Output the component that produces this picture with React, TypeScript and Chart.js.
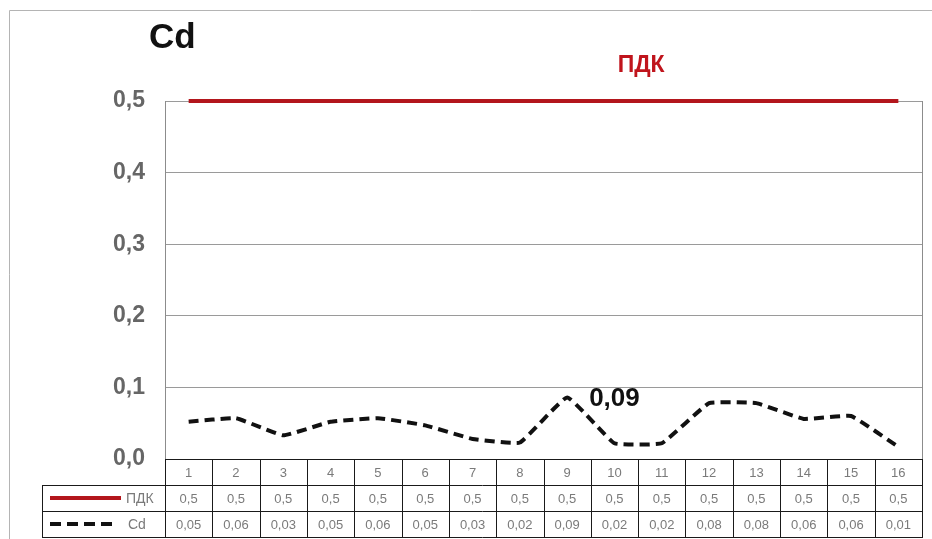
import React, { useEffect, useRef } from 'react';
import { Chart, registerables } from 'chart.js';

Chart.register(...registerables);

const categories = ['1', '2', '3', '4', '5', '6', '7', '8', '9', '10', '11', '12', '13', '14', '15', '16'];
const pdkValues = [0.5, 0.5, 0.5, 0.5, 0.5, 0.5, 0.5, 0.5, 0.5, 0.5, 0.5, 0.5, 0.5, 0.5, 0.5, 0.5];
const cdValues = [0.052, 0.057, 0.033, 0.052, 0.057, 0.047, 0.028, 0.023, 0.086, 0.022, 0.022, 0.078, 0.078, 0.056, 0.06, 0.017];
const pdkTableLabels = ['0,5', '0,5', '0,5', '0,5', '0,5', '0,5', '0,5', '0,5', '0,5', '0,5', '0,5', '0,5', '0,5', '0,5', '0,5', '0,5'];
const cdTableLabels = ['0,05', '0,06', '0,03', '0,05', '0,06', '0,05', '0,03', '0,02', '0,09', '0,02', '0,02', '0,08', '0,08', '0,06', '0,06', '0,01'];
const seriesNames = ['ПДК', 'Cd'];
const chartTitle = 'Cd';
const pdkLabel = 'ПДК';
const peakLabel = '0,09';
const peakIndex = 8;

const RED = '#b3161c';
const SANS = '"Liberation Sans", Arial, sans-serif';
const NARROW = '"Liberation Sans Narrow", "Liberation Sans", Arial, sans-serif';

const decorPlugin = {
  id: 'decor',
  afterDraw(chart: any) {
    const ctx = chart.ctx;
    const area = chart.chartArea;
    const xs = chart.scales.x;
    const ys = chart.scales.y;
    ctx.save();

    // outer frame
    ctx.strokeStyle = '#b4b4b4';
    ctx.lineWidth = 1;
    ctx.beginPath();
    ctx.moveTo(9.5, chart.height);
    ctx.lineTo(9.5, 10.5);
    ctx.lineTo(chart.width, 10.5);
    ctx.stroke();

    // plot right border
    ctx.strokeStyle = '#8c8c8c';
    ctx.beginPath();
    ctx.moveTo(Math.round(area.right) + 0.5, area.top);
    ctx.lineTo(Math.round(area.right) + 0.5, area.bottom);
    ctx.stroke();

    // title
    ctx.fillStyle = '#111';
    ctx.font = 'bold 35px ' + SANS;
    ctx.textAlign = 'left';
    ctx.textBaseline = 'middle';
    ctx.fillText(chartTitle, 149, 38);

    // ПДК label
    ctx.fillStyle = '#c0141c';
    ctx.font = 'bold 23px ' + SANS;
    ctx.textAlign = 'center';
    const pdkX = (xs.getPixelForValue(9) + xs.getPixelForValue(10)) / 2 + 3;
    ctx.fillText(pdkLabel, pdkX, ys.getPixelForValue(pdkValues[0]) - 35);

    // peak label
    ctx.fillStyle = '#111';
    ctx.font = 'bold 26px ' + SANS;
    ctx.textAlign = 'left';
    ctx.fillText(peakLabel, xs.getPixelForValue(peakIndex) + 22, ys.getPixelForValue(cdValues[peakIndex]) + 1);

    // data table
    const n = categories.length;
    const colW = (area.right - area.left) / n;
    const top = Math.round(area.bottom);
    const rowH = 26;
    const legendLeft = 42;
    const L = Math.round(area.left);
    const R = Math.round(area.right);
    ctx.strokeStyle = '#1a1a1a';
    ctx.lineWidth = 1;
    ctx.beginPath();
    ctx.moveTo(L, top + 0.5);
    ctx.lineTo(R + 1, top + 0.5);
    for (let r = 1; r <= 3; r++) {
      ctx.moveTo(legendLeft, top + r * rowH + 0.5);
      ctx.lineTo(R + 1, top + r * rowH + 0.5);
    }
    for (let k = 0; k <= n; k++) {
      const x = Math.round(area.left + k * colW) + 0.5;
      ctx.moveTo(x, top);
      ctx.lineTo(x, top + 3 * rowH);
    }
    ctx.moveTo(legendLeft + 0.5, top + rowH);
    ctx.lineTo(legendLeft + 0.5, top + 3 * rowH);
    ctx.stroke();

    ctx.fillStyle = '#7a7a7a';
    ctx.font = '13px ' + NARROW;
    ctx.textAlign = 'center';
    ctx.textBaseline = 'middle';
    for (let i = 0; i < n; i++) {
      const cx = xs.getPixelForValue(i);
      ctx.fillText(categories[i], cx, top + rowH * 0.5 + 1);
      ctx.fillText(pdkTableLabels[i], cx, top + rowH * 1.5 + 1);
      ctx.fillText(cdTableLabels[i], cx, top + rowH * 2.5 + 1);
    }

    // legend keys
    const y1 = top + rowH * 1.5;
    const y2 = top + rowH * 2.5;
    ctx.lineWidth = 4;
    ctx.strokeStyle = RED;
    ctx.beginPath();
    ctx.moveTo(50, y1);
    ctx.lineTo(121, y1);
    ctx.stroke();
    ctx.strokeStyle = '#111';
    ctx.setLineDash([11, 6]);
    ctx.beginPath();
    ctx.moveTo(50, y2);
    ctx.lineTo(117, y2);
    ctx.stroke();
    ctx.setLineDash([]);
    ctx.textAlign = 'left';
    ctx.fillStyle = '#7a7a7a';
    ctx.font = '14px ' + NARROW;
    ctx.fillText(seriesNames[0], 126, y1 + 1);
    ctx.fillText(seriesNames[1], 128, y2 + 1);

    ctx.restore();
  },
};

export default function App() {
  const ref = useRef<HTMLCanvasElement>(null);

  useEffect(() => {
    if (!ref.current) return;
    const chart = new Chart(ref.current, {
      type: 'line',
      data: {
        labels: categories,
        datasets: [
          {
            label: seriesNames[0],
            data: pdkValues,
            borderColor: RED,
            borderWidth: 4,
            pointRadius: 0,
            tension: 0,
            clip: false,
          },
          {
            label: seriesNames[1],
            data: cdValues,
            borderColor: '#111',
            borderWidth: 4,
            borderDash: [10, 6],
            pointRadius: 0,
            tension: 0.1,
            clip: false,
          },
        ],
      },
      options: {
        animation: false,
        responsive: false,
        events: [],
        layout: { padding: { left: 0, top: 101, right: 10, bottom: 0 } },
        plugins: {
          legend: { display: false },
          tooltip: { enabled: false },
          title: { display: false },
        },
        scales: {
          x: {
            type: 'category',
            offset: true,
            grid: { display: false, drawTicks: false },
            border: { display: false },
            ticks: { display: false },
            afterFit: (s: any) => {
              s.height = 80;
            },
          },
          y: {
            min: 0,
            max: 0.5,
            ticks: {
              stepSize: 0.1,
              padding: 20,
              color: '#666',
              font: { family: SANS, size: 23, weight: 'bold' },
              callback: (v: any) => Number(v).toFixed(1).replace('.', ','),
            },
            grid: { color: '#9a9a9a', lineWidth: 1, drawTicks: false },
            border: { display: true, color: '#8c8c8c', width: 1 },
            afterFit: (s: any) => {
              s.width = 165;
            },
          },
        },
      },
      plugins: [decorPlugin],
    });
    return () => chart.destroy();
  }, []);

  return (
    <div style={{ position: 'absolute', left: 0, top: 0, width: 932, height: 539, background: '#fff' }}>
      <canvas ref={ref} width={932} height={539} style={{ display: 'block' }} />
    </div>
  );
}
